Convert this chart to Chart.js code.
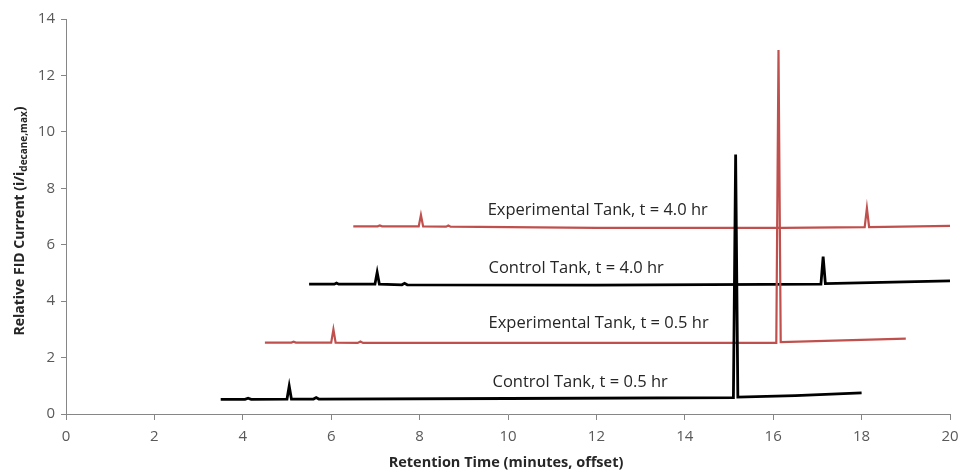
<!DOCTYPE html>
<html>
<head>
<meta charset="utf-8">
<script src="https://cdn.jsdelivr.net/npm/chart.js@4.4.0/dist/chart.umd.min.js"></script>
<style>
  html, body { margin: 0; padding: 0; background: #fff; }
  #wrap { width: 962px; height: 473px; }
</style>
</head>
<body>
<div id="wrap"><canvas id="grafico"></canvas></div>
<script>
// --- DATA ---
const ctrl05X = [3.5, 4.05, 4.12, 4.19, 5.0, 5.05, 5.1, 5.6, 5.66, 5.72, 10.0, 15.1, 15.15, 15.2, 16.5, 18.0];
const ctrl05Y = [0.52, 0.52, 0.56, 0.52, 0.53, 0.99, 0.53, 0.53, 0.58, 0.53, 0.55, 0.58, 9.2, 0.6, 0.65, 0.75];

const exp05X = [4.5, 5.1, 5.15, 5.2, 6.0, 6.05, 6.1, 6.6, 6.66, 6.72, 10.0, 16.07, 16.12, 16.17, 19.0];
const exp05Y = [2.53, 2.53, 2.56, 2.53, 2.53, 3.0, 2.53, 2.52, 2.57, 2.52, 2.52, 2.52, 12.9, 2.55, 2.67];

const ctrl40X = [5.5, 6.07, 6.12, 6.17, 6.99, 7.04, 7.09, 7.6, 7.66, 7.72, 12.0, 17.08, 17.13, 17.18, 20.0];
const ctrl40Y = [4.6, 4.6, 4.64, 4.6, 4.6, 5.02, 4.6, 4.58, 4.63, 4.58, 4.57, 4.6, 5.58, 4.62, 4.72];

const exp40X = [6.5, 7.05, 7.1, 7.15, 7.98, 8.03, 8.08, 8.6, 8.65, 8.7, 12.0, 16.2, 18.07, 18.12, 18.17, 20.0];
const exp40Y = [6.65, 6.65, 6.68, 6.65, 6.65, 7.05, 6.65, 6.64, 6.68, 6.64, 6.6, 6.6, 6.62, 7.3, 6.62, 6.67];

const seriesNames = ["Control Tank, t = 0.5 hr", "Experimental Tank, t = 0.5 hr", "Control Tank, t = 4.0 hr", "Experimental Tank, t = 4.0 hr"];
// label anchors (left edge, vertical centre) in data units
const labelX = [9.65, 9.56, 9.56, 9.54];
const labelY = [1.11, 3.23, 5.18, 7.23];

const xTicks = [0, 2, 4, 6, 8, 10, 12, 14, 16, 18, 20];
const yTicks = [0, 2, 4, 6, 8, 10, 12, 14];

const xTitle = "Retention Time (minutes, offset)";

const ROJO = "rgb(192, 80, 77)";
const GRIS = "#868686";
const FUENTE = "'Open Sans', sans-serif";

function puntos(xs, ys) {
  return xs.map((x, i) => ({ x: x, y: ys[i] }));
}

function serie(nombre, xs, ys, color, ancho) {
  return {
    label: nombre,
    data: puntos(xs, ys),
    showLine: true,
    borderColor: color,
    borderWidth: ancho,
    pointRadius: 0,
    tension: 0,
    fill: false,
  };
}

// --- ETIQUETAS Y TITULOS DE LOS EJES ---
const etiquetas = {
  id: "etiquetas",
  afterDatasetsDraw(chart) {
    const ctx = chart.ctx;
    const sx = chart.scales.x;
    const sy = chart.scales.y;
    ctx.save();
    ctx.fillStyle = "#262626";
    ctx.font = "16.5px " + FUENTE;
    ctx.textAlign = "left";
    ctx.textBaseline = "middle";
    seriesNames.forEach((n, i) => {
      ctx.fillText(n, sx.getPixelForValue(labelX[i]), sy.getPixelForValue(labelY[i]));
    });

    // titulo del eje x
    ctx.font = "bold 14.5px " + FUENTE;
    ctx.textAlign = "center";
    ctx.fillText(xTitle, (sx.left + sx.right) / 2 - 2, 463);

    // titulo del eje y con subindice
    ctx.textAlign = "left";
    ctx.translate(20, 221);
    ctx.rotate(-Math.PI / 2);
    const partes = [
      { t: "Relative FID Current (i/i", f: "bold 14px " + FUENTE, dy: 0 },
      { t: "decane,max", f: "bold 10px " + FUENTE, dy: 4 },
      { t: ")", f: "bold 14px " + FUENTE, dy: 0 },
    ];
    let total = 0;
    partes.forEach((p) => { ctx.font = p.f; total += ctx.measureText(p.t).width; });
    let x = -total / 2;
    partes.forEach((p) => {
      ctx.font = p.f;
      ctx.fillText(p.t, x, p.dy);
      x += ctx.measureText(p.t).width;
    });
    ctx.restore();
  },
};

const ctx = document.getElementById("grafico").getContext("2d");
const grafico = new Chart(ctx, {
  type: "scatter",
  data: {
    datasets: [
      serie(seriesNames[0], ctrl05X, ctrl05Y, "#000", 2.8),
      serie(seriesNames[1], exp05X, exp05Y, ROJO, 2.2),
      serie(seriesNames[2], ctrl40X, ctrl40Y, "#000", 2.8),
      serie(seriesNames[3], exp40X, exp40Y, ROJO, 2.2),
    ],
  },
  options: {
    responsive: true,
    maintainAspectRatio: false,
    animation: false,
    layout: { padding: { top: 19, right: 12, left: 0, bottom: 0 } },
    plugins: { legend: { display: false }, tooltip: { enabled: false } },
    scales: {
      x: {
        type: "linear",
        min: 0,
        max: 20,
        afterBuildTicks: (s) => { s.ticks = xTicks.map((v) => ({ value: v })); },
        afterFit: (s) => { s.height = 59; s.paddingRight = 0; s.paddingLeft = 0; },
        border: { display: true, color: GRIS, width: 1 },
        grid: { drawOnChartArea: false, drawTicks: true, tickLength: 6, color: GRIS },
        ticks: { color: "#595959", font: { size: 15, family: FUENTE }, padding: 8 },
      },
      y: {
        min: 0,
        max: 14,
        afterBuildTicks: (s) => { s.ticks = yTicks.map((v) => ({ value: v })); },
        afterFit: (s) => { s.width = 66; s.paddingTop = 0; s.paddingBottom = 0; },
        border: { display: true, color: GRIS, width: 1 },
        grid: { drawOnChartArea: false, drawTicks: true, tickLength: 5, color: GRIS },
        ticks: { color: "#595959", font: { size: 15, family: FUENTE }, padding: 6 },
      },
    },
  },
  plugins: [etiquetas],
});
</script>
</body>
</html>
